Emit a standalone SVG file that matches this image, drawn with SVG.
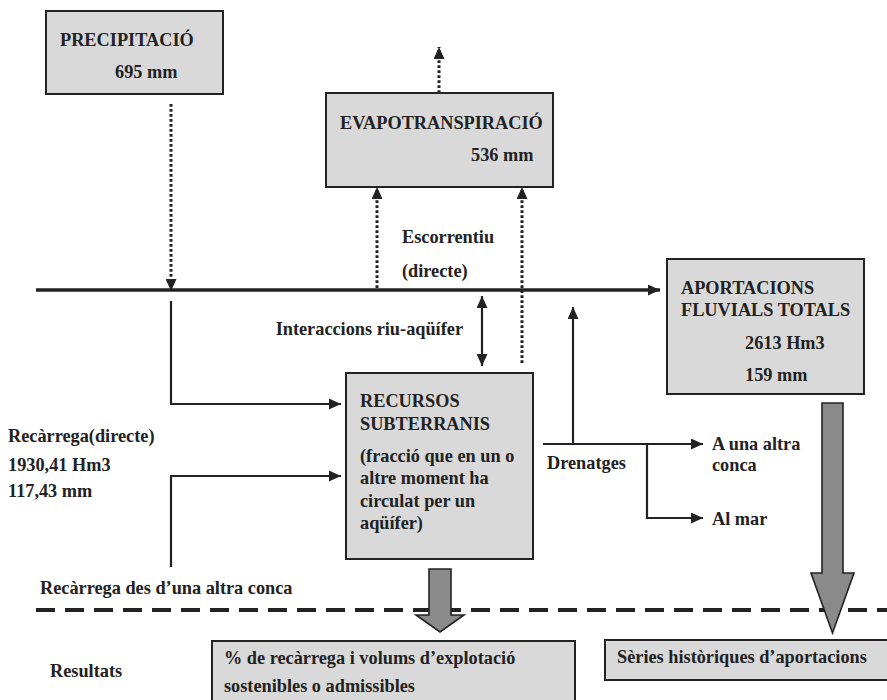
<svg xmlns="http://www.w3.org/2000/svg" width="887" height="700" viewBox="0 0 887 700">
  <style>
    .box { fill: #d9d9d9; stroke: #222; stroke-width: 2; }
    .big { fill: #8a8a8a; stroke: #222; stroke-width: 1.6; stroke-linejoin: miter; }
    .t { font-family: "Liberation Serif", "Times New Roman", serif; font-weight: bold; font-size: 18.3px; fill: #222; }
    .tr { font-family: "Liberation Serif", "Times New Roman", serif; font-weight: bold; font-size: 18.3px; fill: #222; }
    .solid { fill: none; stroke: #222; stroke-width: 2.2; }
    .main { fill: none; stroke: #222; stroke-width: 3.5; }
    .dot { fill: none; stroke: #222; stroke-width: 3; stroke-dasharray: 2.8 2.2; }
    .dash { fill: none; stroke: #222; stroke-width: 4; stroke-dasharray: 19 10; }
  </style>
  <defs>
    <marker id="ah" markerUnits="userSpaceOnUse" markerWidth="12" markerHeight="11" refX="12" refY="5.5" orient="auto-start-reverse">
      <path d="M0,0 L12,5.5 L0,11 z" fill="#222"/>
    </marker>
  </defs>

  <rect width="887" height="700" fill="#fff"/>

  <!-- dashed separator between processes and results -->
  <line class="dash" x1="36" y1="610" x2="887" y2="610"/>

  <g id="connectors">
    <!-- river main channel -->
    <line class="main" x1="36" y1="290" x2="660" y2="290" marker-end="url(#ah)"/>
    <!-- precipitation reaching the surface -->
    <line class="dot" x1="171" y1="104" x2="171" y2="291" marker-end="url(#ah)"/>
    <!-- evapotranspiration outflow -->
    <line class="dot" x1="439" y1="93" x2="439" y2="47" marker-end="url(#ah)"/>
    <line class="dot" x1="377" y1="288" x2="377" y2="187" marker-end="url(#ah)"/>
    <line class="dot" x1="522" y1="363" x2="522" y2="187" marker-end="url(#ah)"/>
    <!-- river-aquifer interaction -->
    <line class="solid" x1="482" y1="296" x2="482" y2="366" marker-start="url(#ah)" marker-end="url(#ah)"/>
    <!-- recharge paths -->
    <path class="solid" d="M171,301 V404 H341" marker-end="url(#ah)"/>
    <path class="solid" d="M171,567 V476 H341" marker-end="url(#ah)"/>
    <!-- drainage -->
    <path class="solid" d="M543,444 H703" marker-end="url(#ah)"/>
    <path class="solid" d="M573,444 V307" marker-end="url(#ah)"/>
    <path class="solid" d="M647,444 V518 H703" marker-end="url(#ah)"/>
    <!-- result arrows -->
    <polygon class="big" points="429,569 451,569 451,615 464,615 440,632 416,615 429,615"/>
    <polygon class="big" points="822,403 843,403 843,573 854,573 832.5,633 811,573 822,573"/>
  </g>

  <g id="precipitacio">
    <rect class="box" x="46" y="11" width="177" height="83"/>
    <text class="t" x="60" y="46">PRECIPITACIÓ</text>
    <text class="t" x="115" y="78">695 mm</text>
  </g>

  <g id="evapotranspiracio">
    <rect class="box" x="326" y="93" width="227" height="94"/>
    <text class="t" x="340" y="129">EVAPOTRANSPIRACIÓ</text>
    <text class="t" x="471" y="161">536 mm</text>
  </g>

  <g id="escorrentiu">
    <text class="t" x="402" y="243">Escorrentiu</text>
    <text class="t" x="402" y="277">(directe)</text>
  </g>

  <g id="interaccions">
    <text class="t" x="463" y="335" text-anchor="end">Interaccions riu-aqüífer</text>
  </g>

  <g id="aportacions">
    <rect class="box" x="667" y="259" width="197" height="135"/>
    <text class="t" x="681" y="294">APORTACIONS</text>
    <text class="t" x="681" y="316">FLUVIALS TOTALS</text>
    <text class="t" x="745" y="349">2613 Hm3</text>
    <text class="t" x="745" y="381">159 mm</text>
  </g>

  <g id="recursos">
    <rect class="box" x="346" y="373" width="187" height="186"/>
    <text class="t" x="360" y="407">RECURSOS</text>
    <text class="t" x="360" y="430">SUBTERRANIS</text>
    <text class="t" x="360" y="462">(fracció que en un o</text>
    <text class="t" x="360" y="484">altre moment ha</text>
    <text class="t" x="360" y="507">circulat per un</text>
    <text class="t" x="360" y="529">aqüífer)</text>
  </g>

  <g id="recarrega">
    <text class="t" x="8" y="442">Recàrrega(directe)</text>
    <text class="t" x="8" y="471">1930,41 Hm3</text>
    <text class="t" x="8" y="497">117,43 mm</text>
  </g>

  <g id="drenatges">
    <text class="t" x="547" y="469">Drenatges</text>
    <text class="t" x="712" y="450">A una altra</text>
    <text class="t" x="712" y="471">conca</text>
    <text class="t" x="712" y="525">Al mar</text>
  </g>

  <g id="recarrega-externa">
    <text class="tr" x="40" y="594">Recàrrega des d’una altra conca</text>
  </g>

  <g id="resultats">
    <text class="tr" x="50" y="677">Resultats</text>
  </g>

  <g id="resultat-recarrega">
    <rect class="box" x="212" y="641" width="363" height="70"/>
    <text class="tr" x="224" y="664">% de recàrrega i volums d’explotació</text>
    <text class="tr" x="224" y="692">sostenibles o admissibles</text>
  </g>

  <g id="resultat-series">
    <rect class="box" x="605" y="640" width="290" height="40"/>
    <text class="tr" x="617" y="663">Sèries històriques d’aportacions</text>
  </g>
</svg>
